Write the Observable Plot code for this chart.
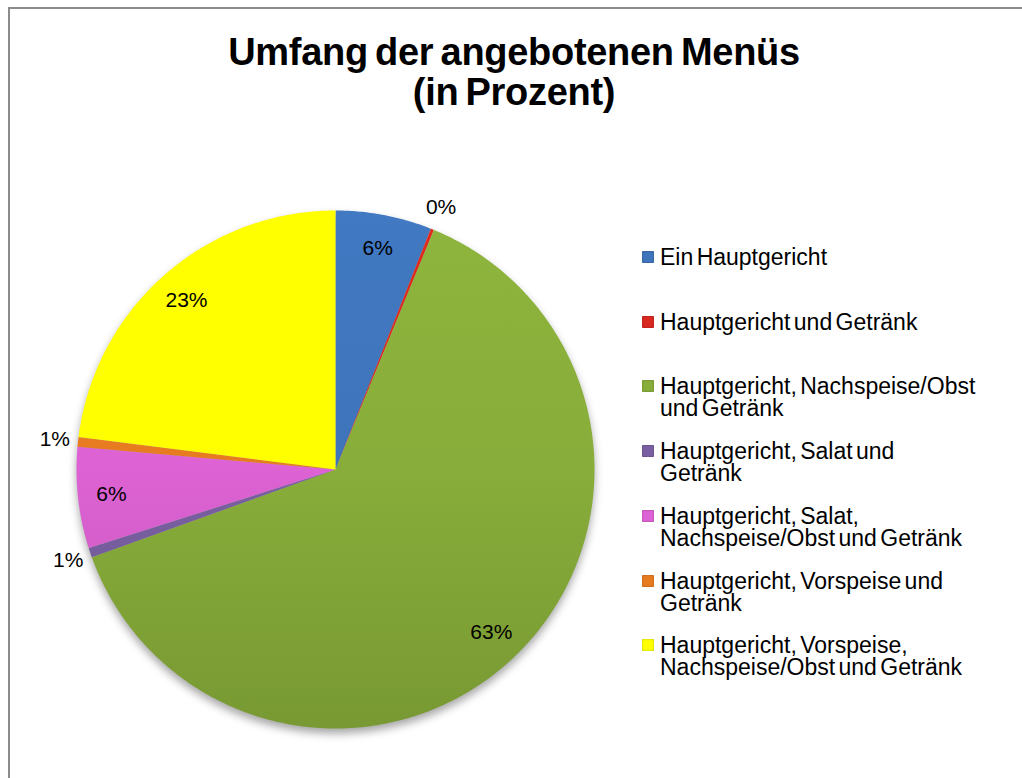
<!DOCTYPE html>
<html>
<head>
<meta charset="utf-8">
<script src="https://cdn.jsdelivr.net/npm/d3@7"></script>
<script src="https://cdn.jsdelivr.net/npm/@observablehq/plot@0.6"></script>
<style>
  body { margin: 0; background: #fff; font-family: "Liberation Sans", Arial, sans-serif; }
  #wrap { position: relative; width: 1022px; height: 778px; overflow: hidden; background: #fff; }
  #frame { position: absolute; left: 8px; top: 7px; width: 1100px; height: 900px;
           border-top: 2px solid #8c8c8c; border-left: 2px solid #8c8c8c; }
  #title { position: absolute; left: 0; width: 1028px; top: 32px; text-align: center;
           font-weight: bold; font-size: 38px; line-height: 40px; color: #000; letter-spacing: -0.3px; word-spacing: -3px; }
  #chart { position: absolute; left: 0; top: 0; }
  #chart svg g[aria-label="line"] { filter: drop-shadow(0px 5px 4px rgba(0,0,0,0.35)); }
  .entry { position: absolute; left: 642px; font-size: 23px; line-height: 22px; color: #000; width: 375px; }
  .entry .sw { position: absolute; left: 0; top: 5px; width: 12px; height: 12px; border-radius: 1px;
               box-shadow: inset 0 0 2px rgba(0,0,0,0.35); }
  .entry .tx { position: absolute; left: 18px; top: 0; white-space: pre; word-spacing: -3px; }
</style>
</head>
<body>
<div id="wrap">
  <div id="frame"></div>
  <div id="title">Umfang der angebotenen Menüs<br>(in Prozent)</div>
  <div id="chart"></div>
  <div id="legend"></div>
</div>
<script>
// ---- data ----
const categories = [
  "Ein Hauptgericht",
  "Hauptgericht und Getränk",
  "Hauptgericht, Nachspeise/Obst und Getränk",
  "Hauptgericht, Salat und Getränk",
  "Hauptgericht, Salat, Nachspeise/Obst und Getränk",
  "Hauptgericht, Vorspeise und Getränk",
  "Hauptgericht, Vorspeise, Nachspeise/Obst und Getränk"
];
const legendLines = [
  "Ein Hauptgericht",
  "Hauptgericht und Getränk",
  "Hauptgericht, Nachspeise/Obst\nund Getränk",
  "Hauptgericht, Salat und\nGetränk",
  "Hauptgericht, Salat,\nNachspeise/Obst und Getränk",
  "Hauptgericht, Vorspeise und\nGetränk",
  "Hauptgericht, Vorspeise,\nNachspeise/Obst und Getränk"
];
const values = [6.0, 0.2, 63.3, 0.6, 6.3, 0.6, 23.0];
const colors = ["#3e74ba", "#d8281f", "#88ad3a", "#7a60a2", "#dd62d3", "#e77b20", "#ffff00"];

// ---- build slices ----
const total = d3.sum(values);
let acc = 0;
const slices = values.map((v, i) => {
  const a0 = acc / total * 2 * Math.PI;
  acc += v;
  const a1 = acc / total * 2 * Math.PI;
  return {key: categories[i], value: v, a0, a1};
});
const points = [];
for (const s of slices) {
  points.push({key: s.key, x: 0, y: 0});
  const n = Math.max(2, Math.ceil((s.a1 - s.a0) / (Math.PI / 360)));
  for (let k = 0; k <= n; k++) {
    const a = s.a0 + (s.a1 - s.a0) * k / n;
    points.push({key: s.key, x: Math.sin(a), y: Math.cos(a)});
  }
}
const labels = slices.map(s => {
  const m = (s.a0 + s.a1) / 2;
  const r = s.value < 2 ? 1.09 : 0.87;
  return {x: r * Math.sin(m), y: r * Math.cos(m), text: Math.round(s.value) + "%"};
});

const gradIds = colors.map((c, i) => "url(#sliceGrad" + i + ")");

const plot = Plot.plot({
  width: 1022,
  height: 778,
  margin: 0,
  x: {domain: [-1, 1], range: [76, 594], axis: null},
  y: {domain: [-1, 1], range: [728, 210], axis: null},
  color: {domain: categories, range: gradIds},
  style: {fontFamily: "Liberation Sans, Arial, sans-serif", background: "transparent"},
  marks: [
    Plot.line(points, {x: "x", y: "y", z: "key", fill: "key", stroke: "none", curve: "linear-closed"}),
    Plot.text(labels, {x: "x", y: "y", text: "text", fontSize: 21, fill: "#000", textAnchor: "middle"})
  ]
});
// gradients for a gentle top-to-bottom shading
const ns = "http://www.w3.org/2000/svg";
const defs = document.createElementNS(ns, "defs");
colors.forEach((c, i) => {
  const g = document.createElementNS(ns, "linearGradient");
  g.setAttribute("id", "sliceGrad" + i);
  g.setAttribute("gradientUnits", "userSpaceOnUse");
  g.setAttribute("x1", "0"); g.setAttribute("x2", "0");
  g.setAttribute("y1", "210"); g.setAttribute("y2", "728");
  const base = d3.color(c);
  [[0, base.brighter(0.12)], [0.5, base], [1, base.darker(0.35)]].forEach(([o, col]) => {
    const st = document.createElementNS(ns, "stop");
    st.setAttribute("offset", o);
    st.setAttribute("stop-color", col.formatHex());
    g.appendChild(st);
  });
  defs.appendChild(g);
});
plot.insertBefore(defs, plot.firstChild);
document.getElementById("chart").appendChild(plot);

// ---- legend ----
const legend = document.getElementById("legend");
legendLines.forEach((t, i) => {
  const e = document.createElement("div");
  e.className = "entry";
  e.style.top = (257 + i * 64.7 - 11) + "px";
  const sw = document.createElement("div");
  sw.className = "sw";
  sw.style.background = colors[i];
  const tx = document.createElement("div");
  tx.className = "tx";
  tx.textContent = t;
  e.appendChild(sw); e.appendChild(tx);
  legend.appendChild(e);
});
</script>
</body>
</html>
